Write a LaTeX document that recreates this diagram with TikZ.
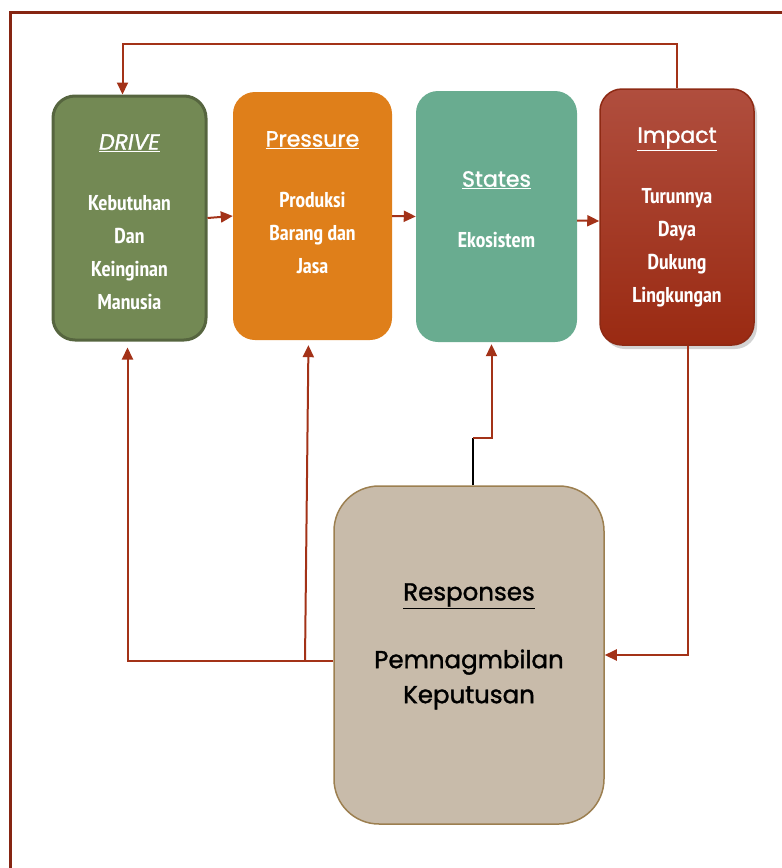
\documentclass[tikz,border=0pt]{standalone}
\usepackage{fontspec}
\setmainfont{Poppins}
\newfontfamily\medfont{Poppins}[FakeBold=1.4]
\newfontfamily\narrowfont{PT Sans Narrow}
\usetikzlibrary{arrows.meta, shadows, positioning}

\definecolor{drivegreen}{HTML}{738954}
\definecolor{drivedark}{HTML}{56653F}
\definecolor{pressorange}{HTML}{DF7F1A}
\definecolor{statesteal}{HTML}{69AC90}
\definecolor{impacttop}{HTML}{B04E3E}
\definecolor{impactbot}{HTML}{9A2A12}
\definecolor{impactline}{HTML}{8E2A14}
\definecolor{resptan}{HTML}{C8BBAA}
\definecolor{respline}{HTML}{9C7F50}
\definecolor{linkred}{HTML}{A33218}
\definecolor{framered}{HTML}{862512}

\newcommand{\garis}[1]{\underline{#1}}

\tikzset{
  boxbase/.style={rectangle, rounded corners=22pt, inner sep=0pt},
  ttl/.style={text=white, font=\medfont\fontsize{22}{26}\selectfont},
  body/.style={text=white, align=center, font=\narrowfont\bfseries\fontsize{21.5}{33}\selectfont},
  resp/.style={align=center, font=\medfont\fontsize{24.5}{35}\selectfont},
  link/.style={draw=linkred, line width=2pt, -{Triangle[length=12pt,width=11pt]}}
}

\begin{document}
\begin{tikzpicture}[x=1pt, y=-1pt]

        \useasboundingbox (0,0) rectangle (782,868);

        % bingkai
        \draw[framered, line width=3pt] (10,880) -- (10,12) -- (800,12);

        % kotak DPSIR
        \node[boxbase, fill=drivegreen, draw=drivedark, line width=3pt, minimum width=153pt, minimum height=244pt] (drive) at (129.5,218) {};
        \node[boxbase, fill=pressorange, minimum width=159pt, minimum height=248pt] (pressure) at (312.5,216) {};
        \node[boxbase, fill=statesteal, minimum width=161pt, minimum height=251pt] (states) at (496.5,216.5) {};
        \node[boxbase, top color=impacttop, bottom color=impactbot, draw=impactline, line width=1.5pt,
              drop shadow={shadow xshift=3pt, shadow yshift=-4pt, opacity=0.35}, minimum width=154pt, minimum height=256pt] (impact) at (677,217) {};
        \node[boxbase, rounded corners=45pt, fill=resptan, draw=respline, line width=1.5pt, minimum width=270pt, minimum height=338pt] (responses) at (469,655) {};

        % teks
        \node[ttl] (driveT) at (129.5,143) {\garis{\textit{DRIVE}}};
        \node[body] (driveB) at (129.5,252.5) {Kebutuhan\\Dan\\Keinginan\\Manusia};
        \node[ttl] (pressureT) at (312.5,140) {\garis{Pressure}};
        \node[body] (pressureB) at (312.5,233) {Produksi\\Barang dan\\Jasa};
        \node[ttl] (statesT) at (496.5,180) {\garis{States}};
        \node[body] (statesB) at (496.5,240) {Ekosistem};
        \node[ttl] (impactT) at (677,139) {\garis{Impact}};
        \node[body] (impactB) at (677,247.5) {Turunnya\\Daya\\Dukung\\Lingkungan};
        \node[resp] (responsesT) at (469,596) {\garis{Responses}};
        \node[resp] (responsesB) at (469,679.5) {Pemnagmbilan\\Keputusan};

        % panah antar kotak
        \draw[link] (drive.east) -- (pressure.west);
        \draw[link] (pressure.east) -- (states.west);
        \draw[link] ([yshift=-4pt]states.east) -- ([yshift=-4pt]impact.west);

        % umpan balik
        \draw[link] (impact.north) -- ++(0,-44) -| ([xshift=-7pt]drive.north);
        \draw[link] ([xshift=11pt]impact.south) |- (responses.east);
        \coordinate (respsplit) at (305,661);
        \draw[link, shorten >=6pt] ([yshift=-6pt]responses.west) -| ([xshift=-2pt]drive.south);
        \draw[link, shorten >=5pt] (respsplit) -- ([xshift=-4pt]pressure.south);
        \draw[black, line width=1.5pt] ([xshift=4pt]responses.north) -- ++(0,-47) coordinate (jog);
        \draw[link, shorten >=2pt] (jog) -| ([xshift=-5pt]states.south);

\end{tikzpicture}
\end{document}
